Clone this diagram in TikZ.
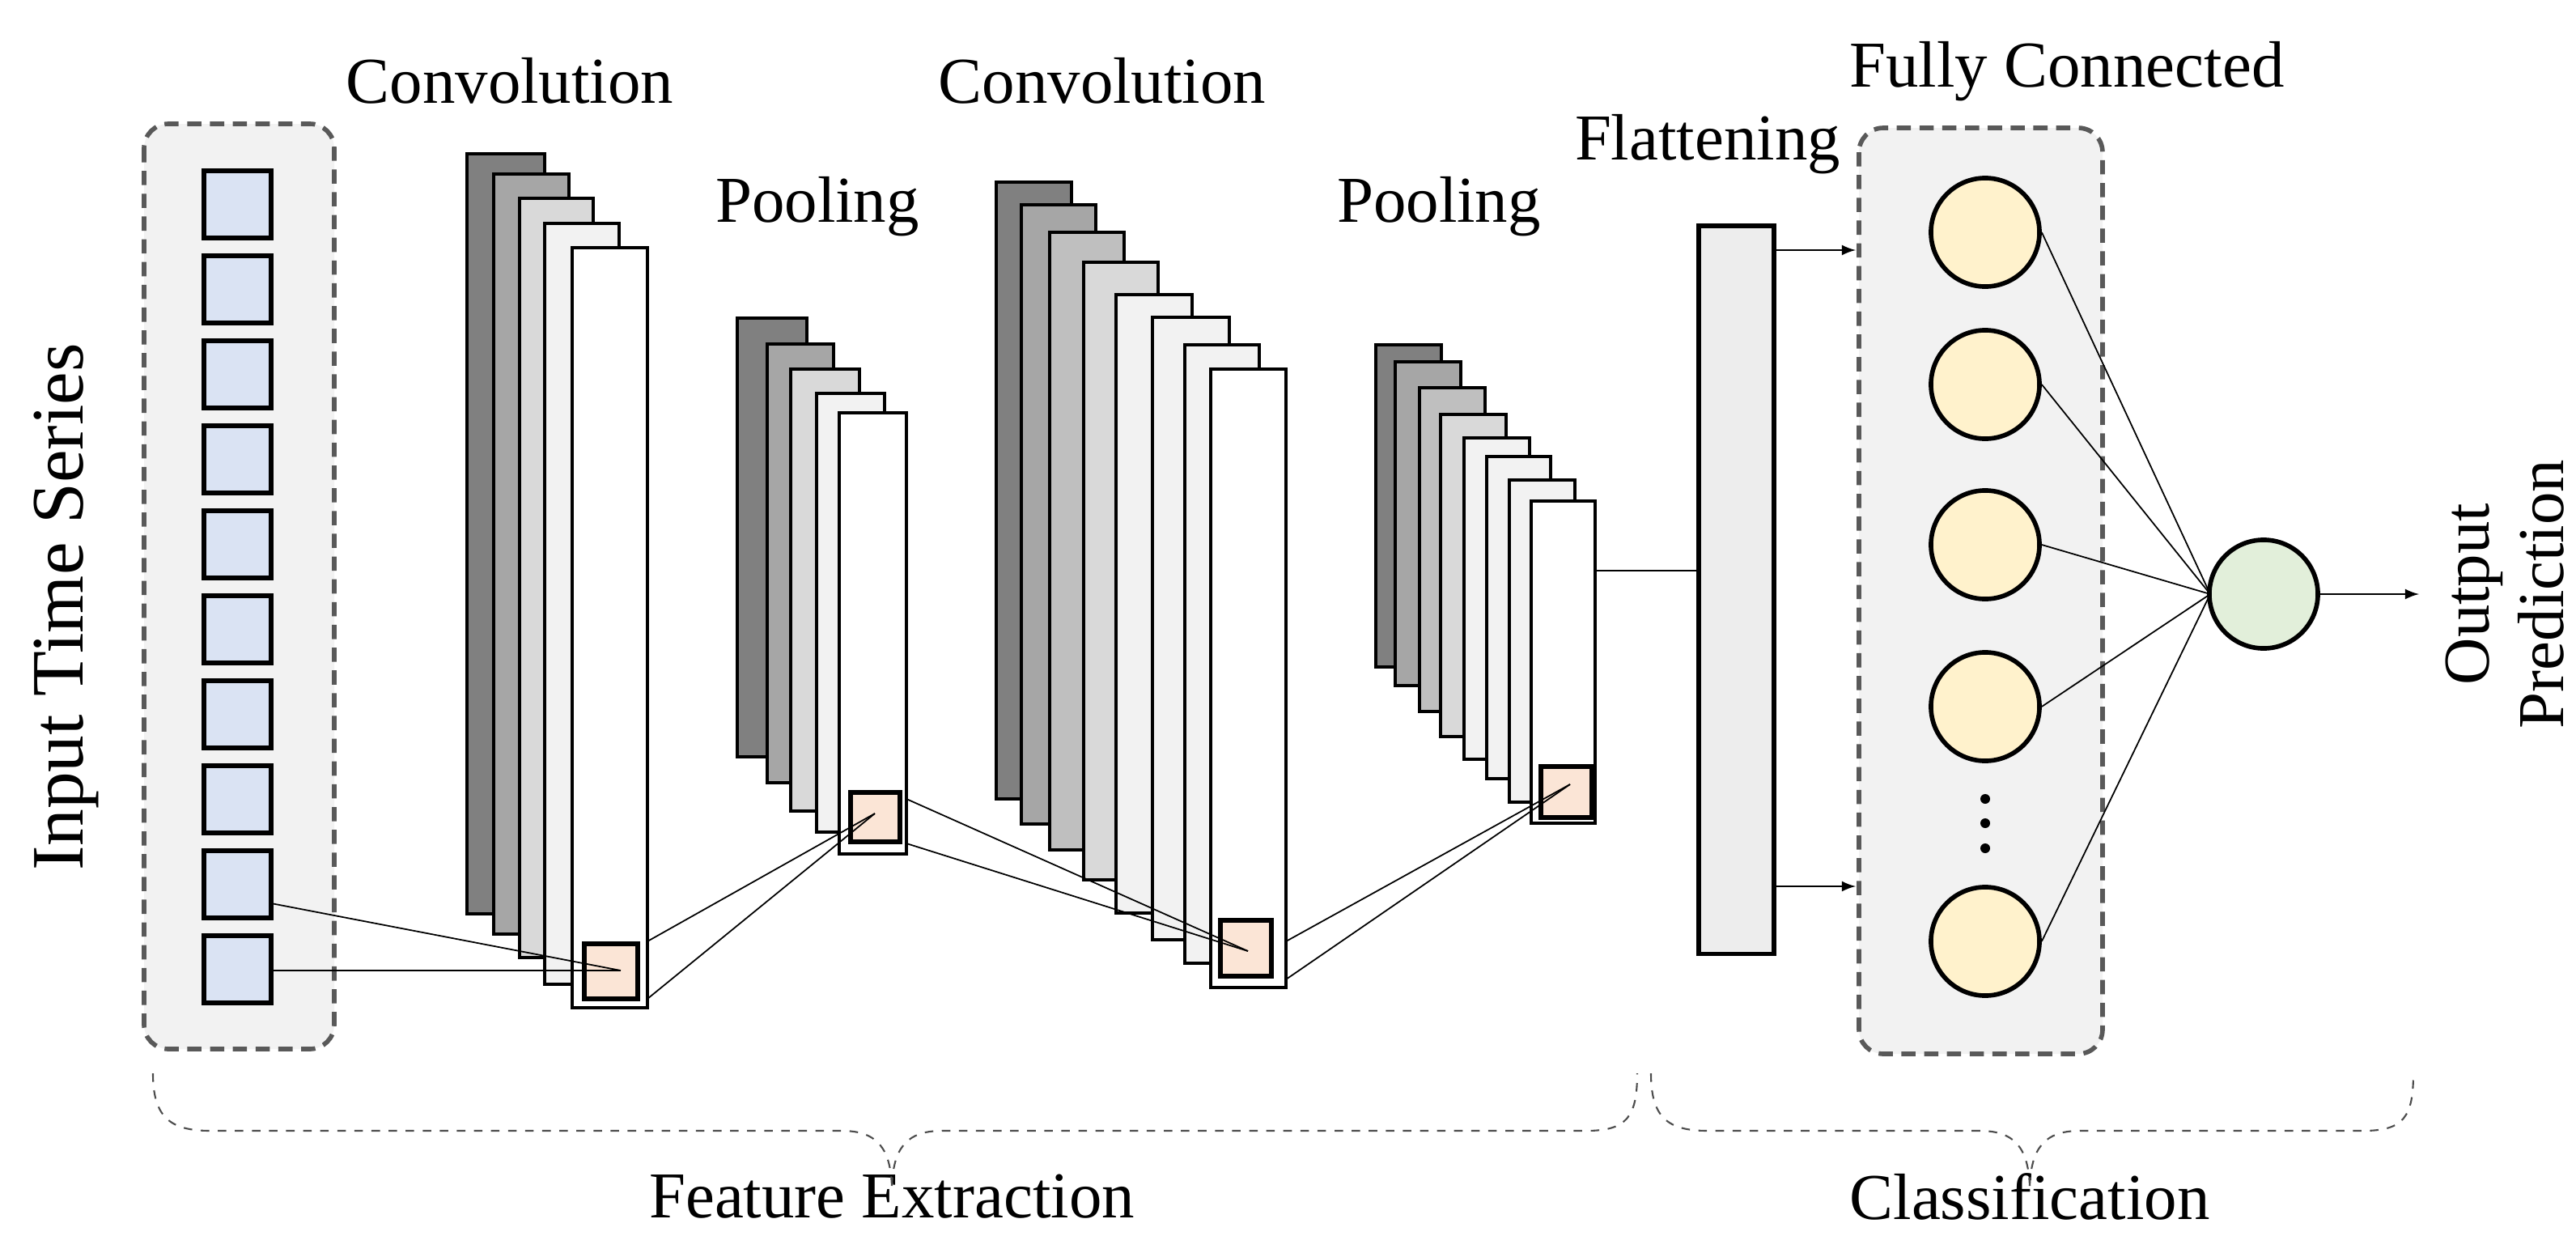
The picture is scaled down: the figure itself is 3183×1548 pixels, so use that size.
\documentclass[tikz,border=0pt]{standalone}
\usepackage{fontspec}
\setmainfont{Liberation Serif}
\begin{document}
\begin{tikzpicture}[x=0.01cm,y=-0.01cm,
  lay/.style={draw=black,line width=0.9pt},
  sq/.style={draw=black,line width=1.6pt},
  grp/.style={draw=black!65,fill=black!5,dashed,line width=1.6pt,rounded corners=0.3cm,dash pattern=on 5pt off 3pt},
  con/.style={line width=0.5pt},
  lbl/.style={font=\fontsize{23}{26}\selectfont},
  brc/.style={draw=black!70,dashed,line width=0.6pt},
  fc/.style={circle,draw=black,line width=1.6pt,minimum size=1.34cm,inner sep=0pt,fill=yellow!20!orange!10}]
\useasboundingbox (0,0) rectangle (3183,1548);
\definecolor{c1}{HTML}{808080}\definecolor{c2}{HTML}{A6A6A6}\definecolor{c3}{HTML}{BFBFBF}
\definecolor{c4}{HTML}{D9D9D9}\definecolor{c5}{HTML}{F2F2F2}\definecolor{org}{HTML}{FBE5D6}
\definecolor{blu}{HTML}{DAE3F3}\definecolor{yel}{HTML}{FFF2CC}\definecolor{grn}{HTML}{E2EFDA}
% input
\draw[grp] (178,153) rectangle (413,1296);
\foreach \i in {0,...,9}{\draw[sq,fill=blu] (252,{211+105*\i}) rectangle +(83,83);}
\node[lbl,font=\fontsize{26}{30}\selectfont,rotate=90] (in) at (82,750) {Input Time Series};
% conv1
\draw[lay,fill=c1] (577,190) rectangle (673,1129);
\draw[lay,fill=c2] (610,215) rectangle (703,1154);
\draw[lay,fill=c4] (642,245) rectangle (733,1183);
\draw[lay,fill=c5] (673,276) rectangle (765,1216);
\draw[lay,fill=white] (707,306) rectangle (800,1245);
\draw[sq,fill=org] (722,1166) rectangle (788,1234);
% pool1
\draw[lay,fill=c1] (911,393) rectangle (997,935);
\draw[lay,fill=c2] (948,425) rectangle (1030,967);
\draw[lay,fill=c4] (977,456) rectangle (1062,1002);
\draw[lay,fill=c5] (1009,486) rectangle (1093,1028);
\draw[lay,fill=white] (1037,510) rectangle (1120,1055);
\draw[sq,fill=org] (1051,979) rectangle (1112,1040);
% conv2
\draw[lay,fill=c1] (1231,225) rectangle (1324,987);
\draw[lay,fill=c2] (1262,253) rectangle (1354,1018);
\draw[lay,fill=c3] (1297,287) rectangle (1389,1050);
\draw[lay,fill=c4] (1339,324) rectangle (1431,1087);
\draw[lay,fill=c5] (1379,364) rectangle (1473,1128);
\draw[lay,fill=c5] (1424,392) rectangle (1519,1161);
\draw[lay,fill=c5] (1464,426) rectangle (1556,1190);
\draw[lay,fill=white] (1496,456) rectangle (1589,1220);
\draw[sq,fill=org] (1508,1137) rectangle (1571,1206);
% pool2
\draw[lay,fill=c1] (1700,426) rectangle (1781,824);
\draw[lay,fill=c2] (1724,447) rectangle (1805,847);
\draw[lay,fill=c3] (1754,479) rectangle (1835,879);
\draw[lay,fill=c4] (1780,512) rectangle (1861,910);
\draw[lay,fill=c5] (1809,541) rectangle (1890,938);
\draw[lay,fill=c5] (1837,564) rectangle (1916,962);
\draw[lay,fill=c5] (1865,593) rectangle (1946,991);
\draw[lay,fill=white] (1892,619) rectangle (1971,1017);
\draw[sq,fill=org] (1904,947) rectangle (1967,1010);
% connectors
\coordinate (p1) at (767,1199); \coordinate (p2) at (1081,1005);
\coordinate (p3) at (1542,1175); \coordinate (p4) at (1940,969);
\draw[con] (335,1116) -- (p1); \draw[con] (335,1199) -- (p1);
\draw[con] (800,1163) -- (p2); \draw[con] (800,1234) -- (p2);
\draw[con] (1120,987) -- (p3); \draw[con] (1120,1042) -- (p3);
\draw[con] (1589,1163) -- (p4); \draw[con] (1589,1210) -- (p4);
% flatten
\node[draw=black,line width=1.6pt,fill=black!7,minimum width=0.93cm,minimum height=8.99cm,inner sep=0pt,anchor=north west] (fl) at (2096,276) {};
\draw[con,line width=0.7pt] (1971,705) -- (fl.west|-0,705);
\draw[-latex,line width=0.7pt] (fl.east|-0,309) -- (2293,309);
\draw[-latex,line width=0.7pt] (fl.east|-0,1095) -- (2293,1095);
% FC
\draw[grp] (2297,158) rectangle (2598,1302);
\foreach \n/\y in {a/287,b/475,c/673,d/873,e/1163}{\node[fc,fill=yel] (\n) at (2453,\y) {};}
\foreach \y in {987,1017,1048}{\fill (2453,\y) circle (0.06cm);}
\node[fc,fill=grn] (o) at (2797,734) {};
\coordinate (oc) at (2731,734);
\foreach \n in {a,b,c,d,e}{\draw[con] (\n.east) -- (oc);}
\draw[-latex,line width=0.7pt] (o.east) -- (2989,734);
\node[lbl,rotate=90,align=center] (out) at (3095,734) {Output\\Prediction};
% labels
\node[lbl] (t1) at (630,100) {Convolution};
\node[lbl] (t2) at (1010,255) {Pooling};
\node[lbl] (t3) at (1362,100) {Convolution};
\node[lbl] (t4) at (1778,255) {Pooling};
\node[lbl] (t5) at (2110,178) {Flattening};
\node[lbl] (t6) at (2554,88) {Fully Connected};
\node[lbl] (t7) at (1102,1478) {Feature Extraction};
\node[lbl] (t8) at (2508,1478) {Classification};
% braces
\draw[brc] (189,1326) .. controls (189,1380) and (210,1397) .. (260,1397) -- (1040,1397) .. controls (1085,1397) and (1100,1420) .. (1102,1465);
\draw[brc] (1102,1465) .. controls (1104,1420) and (1119,1397) .. (1164,1397) -- (1960,1397) .. controls (2010,1397) and (2023,1380) .. (2023,1326);
\draw[brc] (2040,1326) .. controls (2040,1380) and (2060,1397) .. (2110,1397) -- (2446,1397) .. controls (2491,1397) and (2506,1420) .. (2508,1465);
\draw[brc] (2508,1465) .. controls (2510,1420) and (2525,1397) .. (2570,1397) -- (2920,1397) .. controls (2970,1397) and (2982,1380) .. (2982,1326);
\end{tikzpicture}
\end{document}
